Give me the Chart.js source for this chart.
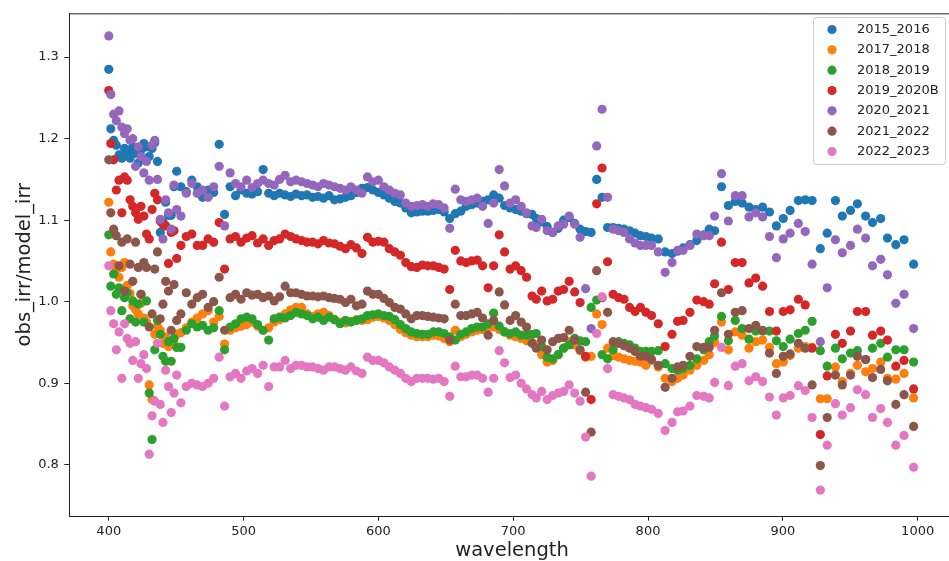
<!DOCTYPE html>
<html lang="en">
<head>
    <meta charset="UTF-8">
    <title>obs_irr / model_irr</title>
    <style>
        html, body {
            margin: 0;
            padding: 0;
            background: #fff;
            overflow: hidden;
        }
        /* the original figure is cut just before its right spine */
        #wrap {
            width: 949px;
            height: 561px;
            overflow: hidden;
        }
    </style>
    <script src="https://cdn.jsdelivr.net/npm/chart.js"></script>
</head>
<body>
    <div id="wrap"><canvas id="irrChart" width="955" height="561"></canvas></div>

    <script>
// wavelengths shared by every season
const wavelength = [
    400, 401.5, 403.6, 405.6, 407.6, 409.7, 411.7, 413.7, 415.8, 417.8, 419.9,
    421.9, 423.9, 426.0, 428.0, 430.0, 432.1, 434.1, 436.1, 438.2, 440.2, 442.2, 444.3, 446.3, 448.4, 450.4,
    453.5, 457.5, 461.6, 465.6, 469.6, 473.7, 477.8, 481.9, 485.9, 490.0, 494.0, 498.1, 502.3, 506.3, 510.4, 514.5,
    518.6, 522.7, 526.7, 530.8, 534.9, 538.9, 543.0, 547.1, 551.2, 555.2, 559.3, 563.4, 567.4, 571.5, 575.6, 579.6,
    583.7, 587.8, 591.9, 595.9, 600.0, 604.1, 608.1, 612.2, 616.3, 620.3, 624.4, 628.5, 632.6, 636.6, 640.7, 644.8,
    648.8, 652.9, 657.0, 661.1, 665.1, 669.2, 673.3, 677.3, 681.4, 685.5, 689.6, 693.6, 697.7, 701.8, 705.9,
    709.9, 714.0, 717.1, 721.1, 725.2, 729.3, 733.4, 737.4, 741.5, 745.6, 749.6, 753.7,
    757.8, 761.9, 765.9, 770.0, 774.1, 778.2, 782.2, 786.3, 790.4, 794.4, 798.5, 802.6,
    807.6, 812.7, 817.8, 821.9, 826.0, 831.1, 836.2, 841.3, 845.4, 849.4, 854.5,
    859.6, 864.7, 869.8, 874.9, 879.9, 885.0, 890.1, 895.2, 900.3, 905.4, 911.5,
    916.6, 921.7, 927.8, 932.9, 939.0, 944.1, 950.2, 955.3, 961.4, 966.5, 972.6, 977.6, 983.8, 989.9, 997.0
];

const s2015_2016 = [
    1.285, 1.212, 1.198, 1.192, 1.180, 1.176, 1.188, 1.184, 1.176, 1.190, 1.182,
    1.170, 1.186, 1.194, 1.190, 1.178, 1.188, 1.195, 1.172, 1.085, 1.098, 1.122, 1.106, 1.106, 1.141, 1.160,
    1.141, 1.135, 1.149, 1.141, 1.128, 1.137, 1.134, 1.193, 1.107, 1.141, 1.130, 1.137, 1.133, 1.132, 1.135, 1.162,
    1.133, 1.130, 1.133, 1.131, 1.129, 1.132, 1.130, 1.131, 1.128, 1.129, 1.127, 1.130, 1.125, 1.126, 1.128, 1.130,
    1.134, 1.139, 1.140, 1.137, 1.134, 1.131, 1.127, 1.123, 1.121, 1.115, 1.109, 1.110, 1.111, 1.111, 1.112, 1.113,
    1.110, 1.102, 1.108, 1.111, 1.117, 1.119, 1.121, 1.123, 1.125, 1.131, 1.127, 1.118, 1.115, 1.113, 1.111,
    1.108, 1.107, 1.102, 1.098, 1.092, 1.085, 1.090, 1.100, 1.103, 1.096, 1.089, 1.086,
    1.085, 1.150, 1.128, 1.091, 1.091, 1.090, 1.089, 1.087, 1.084, 1.081, 1.080, 1.078,
    1.077, 1.061, 1.059, 1.062, 1.066, 1.070, 1.075, 1.082, 1.089, 1.087, 1.141,
    1.118, 1.123, 1.121, 1.116, 1.113, 1.116, 1.110, 1.093, 1.102, 1.112, 1.124,
    1.125, 1.124, 1.065, 1.084, 1.124, 1.105, 1.112, 1.120, 1.105, 1.097, 1.102, 1.078, 1.070, 1.076, 1.046
];

const s2017_2018 = [
    1.122, 1.061, 1.046, 1.040, 1.030, 1.042, 1.048, 1.020, 1.010, 0.995, 0.990,
    0.985, 0.998, 0.980, 0.975, 0.898, 0.880, 0.960, 0.970, 0.965, 0.949, 0.957, 0.945, 0.949, 0.949, 0.960,
    0.962, 0.968, 0.975, 0.980, 0.985, 0.989, 0.975, 0.982, 0.948, 0.965, 0.968, 0.970, 0.972, 0.975, 0.970, 0.965,
    0.968, 0.975, 0.978, 0.985, 0.990, 0.993, 0.993, 0.985, 0.982, 0.985, 0.987, 0.983, 0.978, 0.975, 0.974, 0.976,
    0.978, 0.977, 0.978, 0.981, 0.982, 0.980, 0.977, 0.972, 0.966, 0.962, 0.959, 0.957, 0.957, 0.957, 0.959, 0.958,
    0.955, 0.951, 0.965, 0.957, 0.960, 0.963, 0.965, 0.966, 0.969, 0.969, 0.966, 0.963, 0.959, 0.957, 0.955,
    0.952, 0.950, 0.947, 0.935, 0.926, 0.928, 0.935, 0.943, 0.951, 0.947, 0.940, 0.932,
    0.933, 0.985, 0.972, 0.943, 0.934, 0.932, 0.930, 0.928, 0.927, 0.926, 0.922, 0.928,
    0.920, 0.906, 0.902, 0.906, 0.910, 0.916, 0.922, 0.928, 0.935, 0.950, 0.975,
    0.941, 0.963, 0.959, 0.943, 0.951, 0.953, 0.944, 0.924, 0.926, 0.934, 0.943,
    0.945, 0.944, 0.881, 0.881, 0.920, 0.902, 0.912, 0.922, 0.914, 0.918, 0.926, 0.906, 0.905, 0.912, 0.882
];

const s2018_2019 = [
    1.082, 1.019, 1.034, 1.009, 1.017, 0.989, 1.005, 1.011, 0.979, 1.001, 0.975,
    0.997, 1.009, 0.975, 1.001, 0.888, 0.831, 0.941, 0.977, 0.960, 0.933, 0.927, 0.951, 0.927, 0.955, 0.944,
    0.944, 0.965, 0.973, 0.969, 0.971, 0.965, 0.968, 0.989, 0.941, 0.969, 0.973, 0.979, 0.981, 0.979, 0.972, 0.965,
    0.953, 0.979, 0.981, 0.980, 0.983, 0.987, 0.985, 0.983, 0.979, 0.981, 0.977, 0.981, 0.978, 0.973, 0.977, 0.975,
    0.977, 0.979, 0.983, 0.984, 0.985, 0.983, 0.982, 0.978, 0.972, 0.967, 0.963, 0.961, 0.960, 0.960, 0.963, 0.963,
    0.961, 0.957, 0.953, 0.960, 0.963, 0.967, 0.969, 0.969, 0.973, 0.986, 0.970, 0.963, 0.961, 0.963, 0.959,
    0.959, 0.960, 0.961, 0.945, 0.932, 0.930, 0.935, 0.943, 0.947, 0.955, 0.952, 0.951,
    0.993, 1.002, 0.935, 0.930, 0.941, 0.951, 0.949, 0.947, 0.943, 0.939, 0.939, 0.939,
    0.940, 0.924, 0.918, 0.916, 0.918, 0.922, 0.930, 0.941, 0.951, 0.958, 0.982,
    0.952, 0.977, 0.967, 0.954, 0.964, 0.964, 0.964, 0.952, 0.945, 0.954, 0.961,
    0.965, 0.976, 0.940, 0.921, 0.943, 0.930, 0.937, 0.940, 0.929, 0.943, 0.949, 0.932, 0.941, 0.941, 0.926
];

const s2019_2020B = [
    1.259, 1.194, 1.174, 1.137, 1.149, 1.109, 1.153, 1.149, 1.125, 1.117, 1.109,
    1.101, 1.117, 1.105, 1.083, 1.077, 1.113, 1.133, 1.125, 1.099, 1.095, 1.093, 1.047, 1.085, 1.087, 1.053,
    1.069, 1.080, 1.083, 1.069, 1.069, 1.077, 1.073, 1.097, 1.040, 1.077, 1.080, 1.073, 1.078, 1.081, 1.072, 1.077,
    1.069, 1.075, 1.077, 1.083, 1.080, 1.077, 1.075, 1.073, 1.073, 1.071, 1.075, 1.072, 1.071, 1.068, 1.065, 1.070,
    1.066, 1.059, 1.079, 1.073, 1.074, 1.073, 1.065, 1.061, 1.057, 1.048, 1.043, 1.042, 1.045, 1.044, 1.044, 1.042,
    1.040, 1.015, 1.063, 1.050, 1.048, 1.050, 1.051, 1.044, 1.017, 1.044, 1.082, 1.061, 1.040, 1.044, 1.038,
    1.030, 1.007, 1.003, 1.013, 1.001, 1.003, 1.013, 1.015, 1.025, 1.012, 0.999, 0.933,
    0.880, 1.120, 1.164, 1.049, 1.009, 1.005, 1.003, 0.993, 0.988, 0.993, 0.987, 0.983,
    0.973, 0.945, 0.960, 0.976, 0.977, 0.987, 1.002, 1.000, 0.997, 1.022, 1.073,
    1.015, 1.048, 1.048, 1.023, 1.029, 1.019, 0.988, 0.964, 0.988, 0.990, 1.003,
    0.996, 0.943, 0.837, 0.909, 0.960, 0.949, 0.964, 0.988, 0.988, 0.959, 0.964, 0.953, 0.921, 0.928, 0.893
];

const s2020_2021 = [
    1.326, 1.254, 1.230, 1.222, 1.234, 1.214, 1.206, 1.212, 1.198, 1.200, 1.166,
    1.190, 1.178, 1.158, 1.172, 1.149, 1.192, 1.198, 1.150, 1.101, 1.077, 1.125, 1.109, 1.089, 1.143, 1.113,
    1.105, 1.133, 1.145, 1.133, 1.137, 1.128, 1.141, 1.166, 1.093, 1.158, 1.145, 1.141, 1.149, 1.140, 1.145, 1.149,
    1.145, 1.143, 1.150, 1.155, 1.147, 1.149, 1.147, 1.145, 1.143, 1.141, 1.145, 1.143, 1.141, 1.139, 1.137, 1.141,
    1.137, 1.133, 1.153, 1.147, 1.149, 1.141, 1.137, 1.133, 1.131, 1.121, 1.117, 1.118, 1.119, 1.117, 1.120, 1.119,
    1.115, 1.090, 1.138, 1.125, 1.123, 1.125, 1.127, 1.117, 1.096, 1.121, 1.162, 1.142, 1.121, 1.125, 1.117,
    1.109, 1.093, 1.091, 1.101, 1.087, 1.085, 1.093, 1.095, 1.105, 1.095, 1.079, 1.016,
    0.967, 1.191, 1.236, 1.128, 1.089, 1.087, 1.085, 1.077, 1.072, 1.069, 1.069, 1.069,
    1.061, 1.036, 1.048, 1.063, 1.063, 1.069, 1.083, 1.081, 1.081, 1.105, 1.157,
    1.099, 1.130, 1.130, 1.104, 1.109, 1.104, 1.080, 1.054, 1.077, 1.084, 1.096,
    1.086, 1.046, 0.951, 1.017, 1.076, 1.060, 1.069, 1.089, 1.078, 1.044, 1.052, 1.033, 0.998, 1.009, 0.967
];

const s2021_2022 = [
    1.174, 1.109, 1.089, 1.081, 1.044, 1.073, 1.013, 1.077, 1.046, 1.025, 1.073,
    1.042, 1.009, 1.048, 1.042, 0.969, 0.985, 1.040, 1.061, 0.979, 0.997, 1.025, 1.013, 0.965, 1.021, 0.977,
    0.985, 1.011, 0.997, 1.005, 1.009, 0.993, 1.000, 1.030, 0.965, 1.005, 1.009, 1.003, 1.011, 1.008, 1.009, 1.005,
    1.007, 1.001, 1.006, 1.019, 1.011, 1.011, 1.009, 1.007, 1.007, 1.006, 1.007, 1.005, 1.004, 1.003, 0.999, 1.003,
    0.995, 0.997, 1.013, 1.009, 1.009, 1.004, 0.999, 0.993, 0.991, 0.985, 0.979, 0.983, 0.983, 0.982, 0.981, 0.980,
    0.979, 0.953, 0.997, 0.983, 0.983, 0.985, 0.987, 0.980, 0.959, 0.977, 1.012, 0.996, 0.977, 0.983, 0.975,
    0.969, 0.949, 0.943, 0.953, 0.941, 0.951, 0.955, 0.956, 0.965, 0.953, 0.941, 0.889,
    0.840, 1.038, 1.005, 0.987, 0.951, 0.949, 0.946, 0.943, 0.939, 0.933, 0.933, 0.929,
    0.922, 0.895, 0.906, 0.920, 0.922, 0.933, 0.945, 0.944, 0.944, 0.965, 1.011,
    0.960, 0.987, 0.989, 0.967, 0.971, 0.965, 0.937, 0.912, 0.933, 0.936, 0.949,
    0.943, 0.898, 0.799, 0.858, 0.910, 0.898, 0.910, 0.933, 0.929, 0.907, 0.917, 0.903, 0.874, 0.886, 0.847
];

const s2022_2023 = [
    1.044, 0.989, 0.973, 0.941, 0.963, 0.906, 0.973, 0.955, 0.949, 0.928, 0.951,
    0.906, 0.924, 0.935, 0.918, 0.813, 0.860, 0.878, 0.949, 0.874, 0.852, 0.916, 0.896, 0.864, 0.888, 0.910,
    0.876, 0.896, 0.900, 0.898, 0.896, 0.900, 0.906, 0.932, 0.872, 0.908, 0.912, 0.906, 0.915, 0.918, 0.912, 0.922,
    0.896, 0.920, 0.920, 0.928, 0.918, 0.922, 0.922, 0.920, 0.920, 0.918, 0.916, 0.920, 0.920, 0.918, 0.916, 0.920,
    0.915, 0.912, 0.932, 0.928, 0.928, 0.925, 0.920, 0.916, 0.912, 0.906, 0.902, 0.906, 0.906, 0.906, 0.905, 0.906,
    0.902, 0.884, 0.921, 0.908, 0.908, 0.910, 0.910, 0.906, 0.889, 0.906, 0.940, 0.925, 0.907, 0.910, 0.900,
    0.893, 0.886, 0.882, 0.890, 0.880, 0.885, 0.888, 0.890, 0.898, 0.888, 0.878, 0.834,
    0.786, 0.961, 1.006, 0.918, 0.886, 0.884, 0.882, 0.880, 0.874, 0.872, 0.870, 0.868,
    0.863, 0.842, 0.852, 0.865, 0.866, 0.872, 0.885, 0.884, 0.882, 0.901, 0.944,
    0.897, 0.921, 0.924, 0.903, 0.908, 0.902, 0.883, 0.861, 0.882, 0.885, 0.897,
    0.891, 0.858, 0.769, 0.824, 0.875, 0.861, 0.870, 0.892, 0.886, 0.858, 0.869, 0.852, 0.824, 0.836, 0.797
];

const seriesNames = ['2015_2016', '2017_2018', '2018_2019', '2019_2020B', '2020_2021', '2021_2022', '2022_2023'];
const seriesValues = [s2015_2016, s2017_2018, s2018_2019, s2019_2020B, s2020_2021, s2021_2022, s2022_2023];
const seriesColors = ['#1f77b4', '#ff7f0e', '#2ca02c', '#d62728', '#9467bd', '#8c564b', '#e377c2'];

const xTicks = [400, 500, 600, 700, 800, 900, 1000];
const yTicks = [0.8, 0.9, 1.0, 1.1, 1.2, 1.3];

const axisColor = '#222';
const tickFont = { family: 'DejaVu Sans', size: 13 };
const titleFont = { family: 'DejaVu Sans', size: 19.5, lineHeight: 1 };

// top/right spines + matplotlib style legend box in the upper right corner
const legendBox = {
    id: 'legendBox',
    afterDraw(chart) {
        const ctx = chart.ctx;
        const area = chart.chartArea;
        ctx.save();

        ctx.strokeStyle = axisColor;
        ctx.lineWidth = 1;
        ctx.beginPath();
        ctx.moveTo(area.left, area.top + 0.5);
        ctx.lineTo(area.right - 0.5, area.top + 0.5);
        ctx.lineTo(area.right - 0.5, area.bottom);
        ctx.stroke();

        ctx.fillStyle = 'rgba(255,255,255,0.8)';
        ctx.strokeStyle = '#cccccc';
        ctx.beginPath();
        ctx.roundRect(813.5, 17.5, 132, 147, 3);
        ctx.fill();
        ctx.stroke();

        ctx.font = '13px "DejaVu Sans"';
        ctx.textBaseline = 'middle';
        chart.data.datasets.forEach((ds, i) => {
            const y = 29.5 + i * 20.33;
            ctx.fillStyle = ds.backgroundColor;
            ctx.beginPath();
            ctx.arc(832, y, 4.6, 0, Math.PI * 2);
            ctx.fill();
            ctx.fillStyle = axisColor;
            ctx.fillText(ds.label, 857, y);
        });
        ctx.restore();
    }
};

document.addEventListener("DOMContentLoaded", function () {
    const ctx = document.getElementById('irrChart').getContext('2d');

    const datasets = seriesNames.map((name, i) => {
        const vals = seriesValues[i];
        if (vals.length !== wavelength.length) {
            throw new Error(name + ' has ' + vals.length + ' values, expected ' + wavelength.length);
        }
        return {
            label: name,
            data: vals.map((v, j) => ({ x: wavelength[j], y: v })),
            backgroundColor: seriesColors[i],
            borderWidth: 0,
            pointRadius: 4.6,
            pointHoverRadius: 4.6,
            // later seasons are painted on top, like matplotlib
            order: seriesNames.length - i
        };
    });

    new Chart(ctx, {
        type: 'scatter',
        data: { datasets: datasets },
        options: {
            responsive: false,
            animation: false,
            layout: { autoPadding: false, padding: { top: 11, right: 0, left: 0, bottom: 0 } },
            plugins: {
                legend: { display: false },
                tooltip: { enabled: false }
            },
            scales: {
                x: {
                    type: 'linear',
                    min: 370.5,
                    max: 1027.7,
                    afterBuildTicks: s => { s.ticks = xTicks.map(v => ({ value: v })); },
                    afterFit: s => { s.height = 45; },
                    grid: { drawOnChartArea: false, drawTicks: true, tickLength: 4.7, color: axisColor },
                    border: { display: true, color: axisColor, width: 1 },
                    ticks: {
                        color: axisColor, font: tickFont, padding: 3.5, maxRotation: 0, autoSkip: false,
                        callback: v => String(v)
                    },
                    title: { display: true, text: 'wavelength', color: axisColor, font: titleFont, padding: 0 }
                },
                y: {
                    type: 'linear',
                    min: 0.7372,
                    max: 1.3537,
                    afterBuildTicks: s => { s.ticks = yTicks.map(v => ({ value: v })); },
                    afterFit: s => { s.width = 69; },
                    grid: { drawOnChartArea: false, drawTicks: true, tickLength: 4.7, color: axisColor },
                    border: { display: true, color: axisColor, width: 1 },
                    ticks: {
                        color: axisColor, font: tickFont, padding: 5.5, autoSkip: false,
                        callback: v => v.toFixed(1)
                    },
                    title: {
                        display: true, text: 'obs_irr/model_irr', color: axisColor, font: titleFont,
                        padding: { top: 15, bottom: 0 }
                    }
                }
            }
        },
        plugins: [legendBox]
    });
});
    </script>
</body>
</html>
